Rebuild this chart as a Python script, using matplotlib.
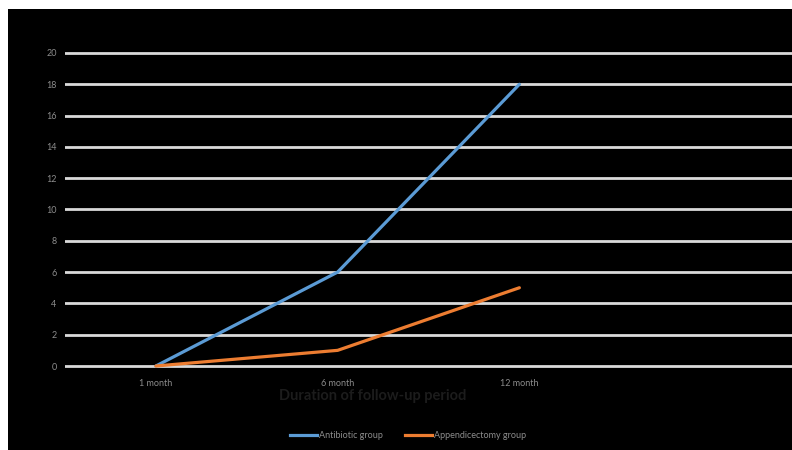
import matplotlib.pyplot as plt
from matplotlib.patches import Rectangle
from matplotlib.lines import Line2D

periods = ["1 month", "6 month", "12 month"]
antibiotic = [0, 6, 18]
appendicectomy = [0, 1, 5]
y_ticks = list(range(0, 21, 2))

W, H = 792, 450
fig = plt.figure(figsize=(W / 100, H / 100), dpi=100, facecolor="white")

# black chart area
fig.patches.append(Rectangle((8 / W, 0), 1 - 8 / W, 1 - 9 / H,
                             transform=fig.transFigure, facecolor="black",
                             edgecolor="none", zorder=-5))

pad = 0.2
px_per_unit = (366 - 53) / 20
bot = 366 + pad * px_per_unit
top = 53 - pad * px_per_unit
ax = fig.add_axes([65 / W, 1 - bot / H, 1 - 65 / W, (bot - top) / H])
ax.set_facecolor("none")

x = list(range(len(periods)))
ax.plot(x, antibiotic, color="#5B9BD5", lw=2.3, solid_capstyle="round", zorder=3)
ax.plot(x, appendicectomy, color="#ED7D31", lw=2.3, solid_capstyle="round", zorder=3)

ax.set_xlim(-0.5, 3.5)
ax.set_ylim(-pad, 20 + pad)
ax.set_yticks(y_ticks)
ax.set_xticks(x)
ax.set_xticklabels(periods)
for s in ax.spines.values():
    s.set_visible(False)
ax.grid(axis="y", color="#d9d9d9", lw=2)
ax.tick_params(length=0, colors="#8c8c8c", labelsize=6.5, pad=6)
ax.tick_params(axis="x", pad=7)
for lab in ax.get_xticklabels() + ax.get_yticklabels():
    lab.set_fontfamily("Lato")

fig.text(373 / W, 1 - 396 / H, "Duration of follow-up period", ha="center",
         va="center", fontsize=10.5, fontweight="bold", color="#1c1c1c",
         family="Lato")

handles = [Line2D([], [], color="#5B9BD5", lw=2.3),
           Line2D([], [], color="#ED7D31", lw=2.3)]
leg = fig.legend(handles, ["Antibiotic group", "Appendicectomy group"],
                 loc="center", bbox_to_anchor=(408 / W, 1 - 436 / H), ncol=2,
                 frameon=False, handlelength=3.0, handletextpad=0.2,
                 columnspacing=2.5, prop={"family": "Lato", "size": 6.5})
for t in leg.get_texts():
    t.set_color("#8c8c8c")

fig.savefig("out.png", dpi=100, facecolor="white")
